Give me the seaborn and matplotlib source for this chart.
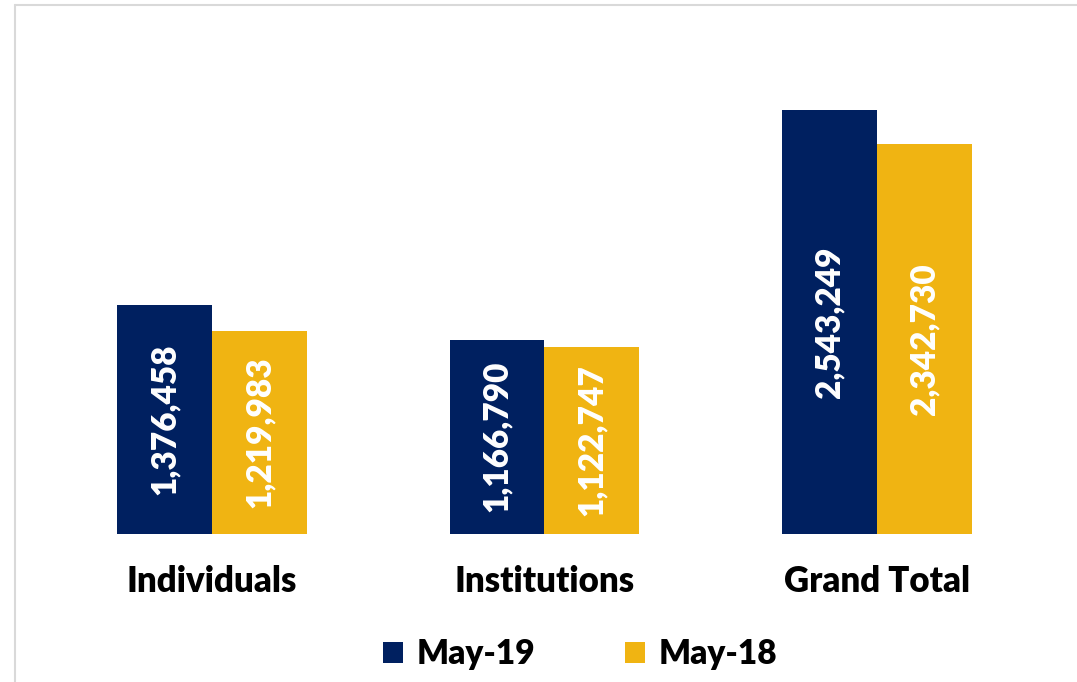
import matplotlib
matplotlib.use('Agg')
import matplotlib.pyplot as plt
from matplotlib.lines import Line2D
from matplotlib.patches import Patch
import seaborn as sns
import pandas as pd

categories = ['Individuals', 'Institutions', 'Grand Total']
series = ['May-19', 'May-18']
may19 = [1376458, 1166790, 2543249]
may18 = [1219983, 1122747, 2342730]
colors = ['#002060', '#F0B412']

df = pd.DataFrame({
    'category': categories * 2,
    'period': [series[0]] * 3 + [series[1]] * 3,
    'value': may19 + may18,
})

sns.set_style('white')
plt.rcParams['font.family'] = ['Lato', 'DejaVu Sans']

fig = plt.figure(figsize=(10.77, 6.82), dpi=100)
ax = fig.add_axes([0.0427, 0.217, 0.9257, 0.733])

sns.barplot(data=df, x='category', y='value', hue='period', order=categories,
            hue_order=series, palette=colors, width=0.571, gap=0,
            saturation=1, errorbar=None, legend=False, linewidth=0, ax=ax)

for container in ax.containers:
    labels = ['{:,}'.format(int(b.get_height())) for b in container]
    ax.bar_label(container, labels=labels, label_type='center', rotation=90,
                 color='white', fontsize=24, fontweight='heavy')

ax.set_ylim(0, 3000000)
ax.set_xlim(-0.5, 2.5)
ax.set_xlabel('')
ax.set_ylabel('')
ax.set_yticks([])
for s in ax.spines.values():
    s.set_visible(False)
ax.tick_params(axis='x', length=0, pad=22, colors='black')
for t in ax.get_xticklabels():
    t.set_fontsize(25)
    t.set_fontweight('heavy')

handles = [Patch(facecolor=c, edgecolor='none') for c in colors]
fig.legend(handles, series, loc='center', bbox_to_anchor=(580 / 1077, 1 - 654 / 682),
           ncol=2, frameon=False, prop={'size': 24, 'weight': 'heavy'},
           labelcolor='black', handlelength=0.6, handleheight=0.6,
           handletextpad=0.4, columnspacing=2.7)

# thin grey frame on the top and left edges
fig.add_artist(Line2D([15 / 1077, 1], [1 - 5 / 682] * 2, color='#d9d9d9', lw=1.5))
fig.add_artist(Line2D([15 / 1077] * 2, [0, 1 - 5 / 682], color='#d9d9d9', lw=1.5))

fig.savefig('out.png', dpi=100)
